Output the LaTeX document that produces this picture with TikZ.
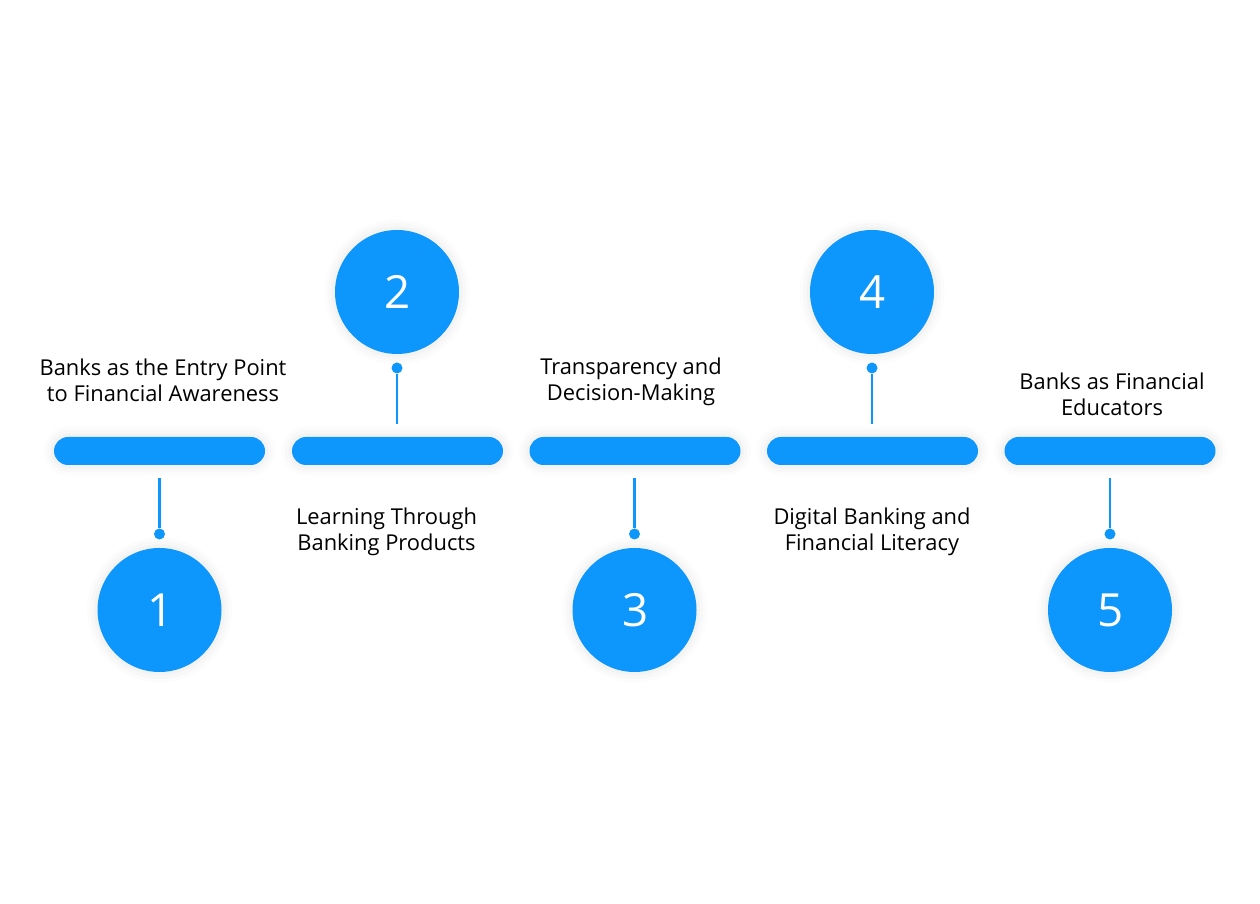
\documentclass[tikz,border=0pt]{standalone}
\usepackage{fontspec}
\setmainfont{Open Sans}
\definecolor{stepblue}{HTML}{0D96FC}
\tikzset{
  softedge/.style={preaction={draw=black,draw opacity=.012,line width=12pt},
    preaction={draw=black,draw opacity=.015,line width=8pt},
    preaction={draw=black,draw opacity=.02,line width=4pt}},
  stepbar/.style={fill=stepblue,rounded corners=.28cm,minimum width=4.22cm,minimum height=.56cm,inner sep=0pt,softedge},
  stepball/.style={circle,fill=stepblue,minimum size=2.48cm,inner sep=0pt,text=white,font=\fontsize{26}{30}\selectfont,softedge},
  stepdot/.style={circle,fill=stepblue,minimum size=.22cm,inner sep=0pt},
  steplink/.style={stepblue,line width=1.2pt},
  steptext/.style={align=center,inner sep=0pt,font=\fontsize{12.45}{14.8}\selectfont}
}
\begin{document}
\begin{tikzpicture}
\useasboundingbox (0,0) rectangle (25.2,18.08);
\node[stepbar] (bar1) at (3.19,9.06){};
\node[stepbar] (bar2) at (7.95,9.06){};
\node[stepbar] (bar3) at (12.7,9.06){};
\node[stepbar] (bar4) at (17.45,9.06){};
\node[stepbar] (bar5) at (22.2,9.06){};
\node[stepball] (ball1) at (3.19,5.88){\hspace{1pt}1};
\node[stepball] (ball2) at (7.94,12.24){\hspace{1pt}2};
\node[stepball] (ball3) at (12.69,5.88){\hspace{1pt}3};
\node[stepball] (ball4) at (17.44,12.24){\hspace{1pt}4};
\node[stepball] (ball5) at (22.2,5.88){\hspace{1pt}5};
\node[stepdot] (dot1) at (3.19,7.4){};
\node[stepdot] (dot2) at (7.94,10.72){};
\node[stepdot] (dot3) at (12.69,7.4){};
\node[stepdot] (dot4) at (17.44,10.72){};
\node[stepdot] (dot5) at (22.2,7.4){};
\coordinate (end1) at (3.19,8.52);
\coordinate (end2) at (7.94,9.6);
\coordinate (end3) at (12.69,8.52);
\coordinate (end4) at (17.44,9.6);
\coordinate (end5) at (22.2,8.52);
\draw[steplink] (end1) -- (dot1);
\draw[steplink] (end2) -- (dot2);
\draw[steplink] (end3) -- (dot3);
\draw[steplink] (end4) -- (dot4);
\draw[steplink] (end5) -- (dot5);
\node[steptext] (text1) at (3.26,10.48){Banks as the Entry Point\\to Financial Awareness};
\node[steptext] (text2) at (7.73,7.44){Learning Through\\Banking Products};
\node[steptext] (text3) at (12.62,10.44){Transparency and\\Decision-Making};
\node[steptext] (text4) at (17.44,7.44){Digital Banking and\\Financial Literacy};
\node[steptext] (text5) at (22.24,10.2){Banks as Financial\\Educators};
\end{tikzpicture}
\end{document}
